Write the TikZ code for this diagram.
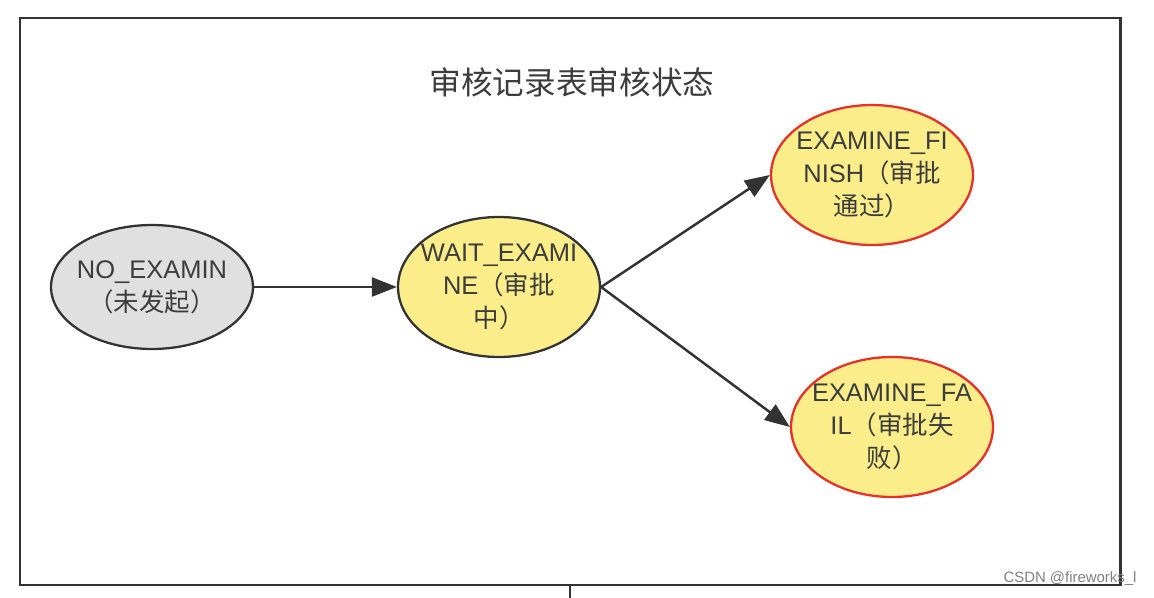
\documentclass[tikz,border=0pt]{standalone}
\usepackage{fontspec}
\setmainfont{Liberation Sans}
\newfontfamily\cjk{Noto Sans CJK SC}
\usetikzlibrary{arrows.meta,shapes.geometric}

\definecolor{linegray}{HTML}{333333}
\definecolor{textgray}{HTML}{3C3C3C}
\definecolor{fillgray}{HTML}{E0E0E0}
\definecolor{fillyellow}{HTML}{FBEE8A}
\definecolor{borderred}{HTML}{E8302A}

\begin{document}
\begin{tikzpicture}[x=0.02cm,y=-0.02cm,>={Triangle[length=5mm,width=3.8mm]},
  state/.style={ellipse,draw=linegray,line width=1.3pt,inner xsep=-0.25cm,inner ysep=-0.2cm,
    align=center,minimum width=4.04cm,minimum height=2.8cm,text=textgray,
    font=\fontsize{14.5}{18.7}\selectfont},
  idle/.style={state,fill=fillgray,minimum height=2.48cm},
  busy/.style={state,fill=fillyellow},
  done/.style={state,fill=fillyellow,draw=borderred},
  flow/.style={->,draw=linegray,line width=1.4pt}]
  \useasboundingbox (0,0) rectangle (1154,598);
  % --- frame ---
  \draw[linegray,line width=1.7pt] (20,18) rectangle (1120,585);
  \coordinate (tail) at (570,585);
  \coordinate (tailend) at (570,598);
  \draw[linegray,line width=1.2pt] (tail) -- (tailend);
  \node[text=textgray,font=\cjk\fontsize{18}{20}\selectfont] (title) at (572,82) {审核记录表审核状态};
  % --- states ---
  \node[idle] (none) at (152,287) {NO\_EXAMIN\\{\cjk（未发起）}};
  \node[busy] (wait) at (499,287) {WAIT\_EXAMI\\NE{\cjk（审批}\\{\cjk 中）}};
  \node[done] (pass) at (872,175) {EXAMINE\_FI\\NISH{\cjk（审批}\\{\cjk 通过）}};
  \node[done] (fail) at (892,427) {EXAMINE\_FA\\IL{\cjk（审批失}\\{\cjk 败）}};
  % --- transitions ---
  \draw[flow] (none.east) -- (wait.west);
  \draw[flow] (wait.east) -- (pass.west);
  \draw[flow] (wait.east) -- (fail.west);
  % --- watermark ---
  \node[text=gray,font=\fontsize{8.5}{10}\selectfont] (mark) at (1070,579) {CSDN @fireworks\_l};
\end{tikzpicture}
\end{document}
